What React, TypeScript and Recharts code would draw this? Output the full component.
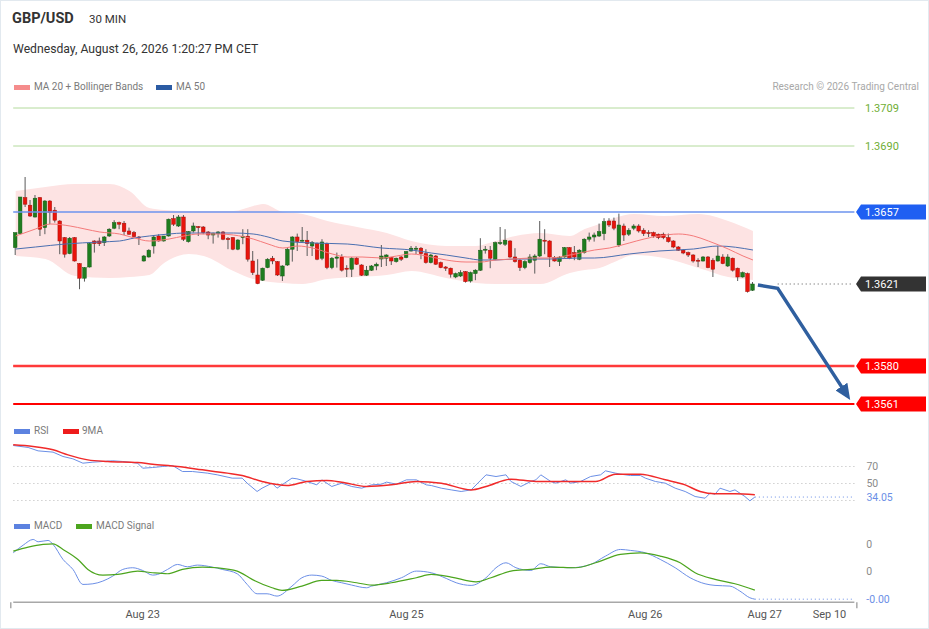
import React from "react";
import { ComposedChart, Bar, Line, Area, XAxis, YAxis, ReferenceLine } from "recharts";

const CHART_W = 929;
const SLOTS = 170;
const ML = 12.2;
const MR = 75.6;
const BAND = (CHART_W - ML - MR) / SLOTS;

// open, high, low, close  (price x 10 000)
const candles: [number, number, number, number][] = [
  [13639.2, 13646.7, 13635.5, 13646.7], [13646.2, 13664.5, 13645.9, 13664.5], [13664.2, 13674.5, 13659.5, 13660.9],
  [13660.4, 13663.0, 13654.5, 13655.0], [13654.5, 13665.5, 13654.2, 13663.9], [13664.2, 13664.5, 13645.0, 13648.4],
  [13649.2, 13662.9, 13645.9, 13662.5], [13662.5, 13662.9, 13650.9, 13656.7], [13657.9, 13659.5, 13651.7, 13652.9],
  [13652.5, 13652.9, 13635.9, 13642.5], [13644.2, 13644.5, 13634.2, 13635.9], [13636.2, 13644.5, 13635.9, 13643.9],
  [13644.2, 13644.5, 13632.2, 13632.5], [13631.2, 13631.5, 13618.4, 13623.9], [13623.9, 13629.5, 13622.2, 13629.2],
  [13629.5, 13641.5, 13629.2, 13641.2], [13642.5, 13642.9, 13636.7, 13641.2], [13642.5, 13644.2, 13640.0, 13641.2],
  [13641.7, 13645.0, 13640.0, 13644.5], [13645.0, 13648.9, 13644.5, 13648.4], [13648.9, 13652.9, 13648.4, 13651.7],
  [13651.7, 13652.2, 13648.4, 13650.9], [13651.4, 13652.5, 13645.5, 13647.2], [13647.5, 13649.2, 13645.5, 13645.9],
  [13646.7, 13647.5, 13644.2, 13644.7], [13644.5, 13645.0, 13640.5, 13644.2], [13632.5, 13635.5, 13632.2, 13635.0],
  [13634.5, 13638.4, 13634.2, 13637.9], [13640.0, 13645.5, 13636.2, 13644.5], [13645.0, 13645.9, 13642.2, 13642.5],
  [13642.5, 13645.0, 13642.2, 13645.0], [13645.0, 13653.7, 13644.7, 13653.4], [13653.7, 13655.5, 13650.0, 13650.9],
  [13650.0, 13655.5, 13649.5, 13654.5], [13654.5, 13655.5, 13642.5, 13643.4], [13642.2, 13647.5, 13641.7, 13647.2],
  [13647.5, 13651.7, 13646.7, 13650.0], [13649.7, 13650.0, 13645.0, 13649.2], [13649.5, 13650.0, 13645.9, 13646.7],
  [13647.0, 13647.5, 13643.4, 13645.5], [13645.5, 13646.7, 13641.2, 13646.4], [13646.2, 13647.5, 13644.2, 13647.0],
  [13647.0, 13647.5, 13642.9, 13643.4], [13643.7, 13644.5, 13638.4, 13643.2], [13644.2, 13644.5, 13637.9, 13638.4],
  [13638.4, 13643.4, 13637.9, 13643.0], [13644.2, 13648.4, 13640.9, 13644.9], [13644.9, 13648.4, 13632.2, 13633.4],
  [13632.5, 13637.5, 13625.5, 13626.7], [13625.5, 13633.4, 13620.9, 13621.2], [13622.9, 13629.2, 13622.5, 13628.9],
  [13629.2, 13633.9, 13628.9, 13633.4], [13633.9, 13635.0, 13630.9, 13632.5], [13632.2, 13632.5, 13625.0, 13625.5],
  [13625.0, 13630.4, 13622.5, 13630.0], [13630.5, 13639.5, 13630.0, 13638.4], [13638.4, 13644.9, 13632.2, 13644.5],
  [13644.5, 13646.2, 13637.5, 13642.2], [13642.4, 13649.5, 13642.2, 13642.9], [13642.9, 13647.5, 13635.0, 13641.2],
  [13640.0, 13642.5, 13635.0, 13641.7], [13641.2, 13641.7, 13632.9, 13633.4], [13633.9, 13643.4, 13632.9, 13642.0],
  [13641.2, 13641.7, 13628.4, 13629.2], [13629.2, 13634.5, 13628.4, 13633.9], [13633.9, 13636.7, 13629.2, 13634.5],
  [13634.5, 13635.9, 13627.2, 13627.9], [13628.9, 13630.4, 13624.5, 13628.4], [13628.4, 13634.5, 13624.5, 13633.9],
  [13633.9, 13634.5, 13630.5, 13630.9], [13630.5, 13630.9, 13625.0, 13625.4], [13625.4, 13630.0, 13625.0, 13627.9],
  [13627.9, 13630.5, 13627.5, 13630.0], [13630.0, 13631.7, 13627.9, 13630.9], [13633.5, 13640.5, 13629.5, 13635.0],
  [13633.9, 13635.9, 13630.0, 13635.5], [13634.2, 13634.5, 13630.5, 13632.5], [13632.2, 13634.2, 13631.7, 13633.9],
  [13634.5, 13635.0, 13632.5, 13633.4], [13634.2, 13637.5, 13633.9, 13637.2], [13637.5, 13640.0, 13637.2, 13638.9],
  [13638.4, 13640.0, 13635.9, 13638.9], [13638.9, 13639.5, 13633.4, 13636.2], [13636.2, 13638.4, 13631.2, 13631.7],
  [13631.7, 13636.0, 13631.3, 13635.5], [13635.0, 13635.5, 13630.5, 13630.9], [13631.7, 13632.2, 13628.9, 13629.2],
  [13629.5, 13630.0, 13627.5, 13628.9], [13628.9, 13629.2, 13624.2, 13625.9], [13624.5, 13626.7, 13623.9, 13626.2],
  [13625.0, 13627.9, 13624.5, 13626.7], [13627.2, 13627.5, 13621.7, 13622.2], [13622.5, 13627.2, 13621.7, 13626.7],
  [13626.2, 13628.4, 13622.9, 13627.9], [13627.9, 13643.9, 13627.5, 13637.9], [13637.9, 13640.0, 13636.2, 13638.4],
  [13637.9, 13640.0, 13628.9, 13633.9], [13633.4, 13642.2, 13632.9, 13641.7], [13641.4, 13649.5, 13640.5, 13641.7],
  [13640.9, 13648.4, 13640.0, 13642.9], [13642.5, 13642.9, 13633.9, 13634.5], [13634.5, 13638.9, 13631.7, 13632.2],
  [13632.9, 13633.4, 13627.5, 13629.2], [13629.2, 13632.9, 13628.4, 13632.2], [13631.7, 13635.9, 13631.2, 13634.5],
  [13632.9, 13635.9, 13626.2, 13635.0], [13635.0, 13652.5, 13634.5, 13643.4], [13642.9, 13648.4, 13635.9, 13642.5],
  [13642.5, 13642.9, 13629.5, 13634.5], [13634.2, 13635.0, 13632.2, 13632.5], [13632.2, 13635.0, 13630.0, 13634.2],
  [13634.5, 13639.5, 13634.2, 13639.2], [13639.2, 13639.5, 13633.4, 13633.9], [13636.7, 13640.0, 13632.9, 13634.5],
  [13633.4, 13638.4, 13632.9, 13637.9], [13636.7, 13643.9, 13636.2, 13643.4], [13643.4, 13646.7, 13642.2, 13644.5],
  [13644.5, 13646.7, 13642.2, 13645.5], [13645.0, 13651.2, 13644.5, 13647.2], [13646.2, 13653.9, 13642.9, 13652.2],
  [13652.5, 13653.9, 13649.5, 13650.5], [13652.5, 13654.2, 13647.9, 13648.9], [13640.5, 13656.2, 13639.5, 13650.5],
  [13650.0, 13651.2, 13642.5, 13645.5], [13645.9, 13648.9, 13645.0, 13647.9], [13648.9, 13650.9, 13647.9, 13650.0],
  [13650.0, 13650.9, 13646.7, 13647.5], [13647.9, 13648.9, 13645.0, 13646.2], [13646.7, 13647.9, 13644.5, 13646.2],
  [13646.7, 13647.2, 13644.2, 13645.0], [13645.9, 13646.2, 13643.4, 13644.2], [13645.9, 13646.7, 13643.4, 13644.2],
  [13644.2, 13646.2, 13641.7, 13642.2], [13642.5, 13642.9, 13638.9, 13639.5], [13639.5, 13640.0, 13637.5, 13637.9],
  [13637.9, 13638.4, 13635.9, 13636.5], [13636.7, 13637.2, 13634.5, 13635.5], [13635.5, 13635.9, 13631.7, 13632.5],
  [13632.9, 13633.9, 13629.5, 13632.5], [13632.5, 13635.0, 13632.2, 13634.5], [13634.5, 13635.0, 13628.9, 13629.2],
  [13632.9, 13633.9, 13624.5, 13628.4], [13632.5, 13640.0, 13632.2, 13635.0], [13634.5, 13635.9, 13630.9, 13631.2],
  [13630.0, 13635.9, 13629.5, 13634.5], [13633.9, 13634.2, 13627.2, 13627.9], [13628.9, 13629.2, 13622.5, 13624.5],
  [13624.5, 13627.2, 13624.2, 13626.7], [13626.2, 13626.7, 13616.7, 13617.2], [13617.9, 13622.0, 13617.5, 13621.0],
];

// Bollinger band: [index, lower, upper]
const bandPts: [number, number, number][] = [
  [0, 13635, 13667.5], [6, 13633.5, 13669.5], [12, 13625, 13671], [19, 13624, 13671], [23, 13624.5, 13667.5],
  [27, 13625.5, 13659], [30, 13631.5, 13658], [35, 13636, 13657.5], [38, 13635, 13657.5], [44, 13627.5, 13657.5],
  [48, 13623.5, 13660], [50, 13622.5, 13661], [54, 13621.5, 13657], [58, 13621, 13656], [63, 13623.5, 13652.5],
  [69, 13624.5, 13649.5], [75, 13625.5, 13646.5], [80, 13627.5, 13642.5], [87, 13624, 13640], [93, 13621.5, 13640],
  [97, 13621, 13642.5], [101, 13621, 13645], [106, 13621, 13646.5], [112, 13626.5, 13645], [115, 13628, 13648.5],
  [118, 13629, 13651], [121, 13632, 13654], [125, 13635.5, 13656], [131, 13634, 13655], [138, 13629, 13656],
  [144, 13624.5, 13652.5], [149, 13623, 13647.5],
];

const ma20Pts: [number, number][] = [
  [0, 13645], [4, 13648.5], [7, 13651], [11, 13650], [14, 13648.5], [17, 13647], [21, 13646], [24, 13644],
  [27, 13642.5], [31, 13643.5], [34, 13645], [37, 13646], [41, 13646], [44, 13645.5], [48, 13643.5], [51, 13641],
  [54, 13639], [57, 13640], [60, 13639], [64, 13636], [67, 13634.5], [70, 13634.5], [74, 13634], [77, 13635],
  [80, 13636], [84, 13634.5], [87, 13633], [91, 13632], [94, 13632], [97, 13633], [101, 13633.5], [104, 13634],
  [108, 13634], [111, 13635], [114, 13636.5], [117, 13638], [120, 13639], [124, 13641.5], [127, 13643.5],
  [130, 13645], [134, 13646], [137, 13645], [140, 13642.5], [144, 13638.5], [147, 13635], [149, 13633],
];

const ma50Pts: [number, number][] = [
  [0, 13638.5], [4, 13639.5], [10, 13641], [17, 13642], [21, 13642.5], [24, 13644], [27, 13645], [31, 13646],
  [34, 13646.5], [37, 13646.5], [44, 13646.5], [48, 13646], [51, 13644.5], [54, 13642.5], [60, 13641.5],
  [67, 13641], [74, 13639], [80, 13638], [84, 13636.5], [87, 13635.5], [91, 13634], [94, 13633], [97, 13633],
  [101, 13633.5], [108, 13633.5], [114, 13634], [117, 13634], [124, 13636], [130, 13637.5], [137, 13638.5],
  [142, 13640], [149, 13638],
];

// forecast arrow path
const forecastPts: [number, number][] = [[150, 13620.5], [154, 13618.8], [167, 13569.3]];

const levels = [1.3709, 1.369, 1.3657, 1.3621, 1.358, 1.3561];
const levelKind = ["green", "green", "blue", "dark", "red", "red"];

const rsiPts: [number, number][] = [
  [0, 94.7], [3, 92.4], [5, 88.4], [8, 86.9], [10, 81.8], [12, 79.0], [14, 73.9], [16, 75.1], [20, 76.7],
  [22, 75.9], [25, 73.9], [26, 68.0], [28, 68.8], [30, 70], [32, 71.2], [34, 64.1], [36, 64.1], [39, 62.2],
  [41, 60.2], [44, 56.3], [46, 56.3], [47, 50.4], [49, 40.6], [50, 44.5], [52, 50.4], [53, 44.5], [56, 56.3],
  [57, 55.5], [59, 52.4], [61, 48.4], [62, 54.3], [64, 46.5], [66, 50.4], [68, 46.5], [70, 44.5], [72, 48.4],
  [74, 49.2], [75, 51.6], [77, 49.2], [79, 54.3], [81, 54.3], [83, 48.4], [84, 47.6], [86, 44.5], [88, 42.5],
  [90, 40.6], [92, 42.5], [94, 54.3], [95, 60.2], [97, 58.2], [99, 60.2], [100, 52.4], [102, 46.5], [104, 52.4],
  [105, 54.3], [106, 60.2], [108, 52.4], [109, 50.4], [111, 54.3], [112, 50.4], [114, 52.4], [116, 58.2],
  [118, 60.2], [119, 64.9], [121, 62.2], [122, 61.0], [124, 59.4], [126, 59.4], [127, 56.3], [129, 52.4],
  [131, 50.4], [133, 44.5], [135, 40.6], [137, 34.7], [139, 32.7], [140, 38.6], [141, 37.4], [142, 44.5],
  [144, 40.6], [145, 42.5], [147, 34.7], [148, 29.6], [149, 34.05],
];

const rsiMaPts: [number, number][] = [
  [0, 95.5], [4, 93.5], [8, 89.6], [11, 83.7], [15, 77.8], [19, 75.9], [25, 74.7], [28, 72.7], [33, 70],
  [38, 66.1], [43, 62.2], [46, 59.4], [50, 52.4], [55, 47.6], [59, 52.4], [63, 53.5], [66, 51.6], [71, 46.5],
  [76, 48.4], [81, 52.4], [86, 50.4], [92, 42.5], [95, 46.5], [100, 55.1], [105, 52.4], [112, 52.4], [117, 52.4],
  [121, 61.0], [126, 61.0], [131, 54.3], [135, 48.4], [138, 40.6], [141, 37.8], [145, 37.8], [149, 36.7],
];

// MACD and signal (x 10 000)
const macdPts: [number, number][] = [
  [0, 3.39], [2, 4.81], [4, 5.86], [5, 5.43], [7, 5.68], [8, 4.94], [10, 2.16], [12, 0.31], [14, -2.47],
  [16, -2.35], [18, -1.85], [20, -0.93], [22, 0.31], [24, 0.62], [26, 0.12], [28, -0.74], [29, -0.62],
  [31, 0.31], [33, 1.23], [35, 0.8], [37, 1.11], [40, 0.74], [42, 0.31], [45, -0.49], [47, -2.47], [49, -4.2],
  [51, -4.2], [53, -4.63], [56, -2.78], [58, -1.23], [60, -0.74], [62, -0.93], [64, -1.73], [66, -2.16],
  [68, -2.59], [71, -3.09], [72, -2.78], [75, -2.16], [78, -1.23], [81, 0.0], [84, -0.31], [87, -1.36],
  [89, -2.16], [92, -2.65], [95, -1.23], [97, 0.62], [99, 1.54], [101, 0.62], [104, 0.12], [106, 1.36],
  [108, 0.8], [112, 0.62], [116, 1.23], [119, 2.78], [122, 4.01], [124, 3.83], [127, 3.39], [130, 2.16],
  [133, 0.62], [136, -1.23], [139, -2.35], [141, -2.65], [144, -2.78], [146, -3.7], [148, -4.94], [149, -5.2],
];

const signalPts: [number, number][] = [
  [0, 3.7], [3, 4.44], [6, 4.94], [8, 5.06], [10, 4.01], [13, 2.16], [15, 0.31], [18, -0.74], [21, -0.62],
  [25, 0], [28, -0.31], [31, -0.49], [34, 0.31], [38, 0.74], [41, 0.62], [45, 0], [48, -1.54], [52, -3.09],
  [54, -3.58], [58, -2.78], [62, -1.73], [65, -1.73], [69, -2.16], [72, -2.59], [76, -2.16], [81, -1.23],
  [84, -0.62], [88, -1.11], [93, -1.98], [96, -1.23], [100, 0], [104, 0.31], [108, 0.74], [113, 0.62],
  [117, 1.54], [122, 3.09], [126, 3.39], [130, 2.78], [134, 1.54], [137, -0.31], [141, -1.54], [145, -2.35],
  [149, -3.52],
];

const xTickIdx = [26, 79, 127, 151, 164];
const xTickLabels = ["Aug 23", "Aug 25", "Aug 26", "Aug 27", "Sep 10"];

const P = (v: number) => v / 10000;
const rows: Record<string, any>[] = Array.from({ length: SLOTS }, (_, i) => ({ i }));
candles.forEach(([o, h, l, c], i) =>
  Object.assign(rows[i], { o: P(o), h: P(h), l: P(l), c: P(c), range: [P(l), P(h)] })
);
bandPts.forEach(([i, lo, hi]) => (rows[i].band = [P(lo), P(hi)]));
ma20Pts.forEach(([i, v]) => (rows[i].ma20 = P(v)));
ma50Pts.forEach(([i, v]) => (rows[i].ma50 = P(v)));
forecastPts.forEach(([i, v]) => (rows[i].fc = P(v)));
rsiPts.forEach(([i, v]) => (rows[i].rsi = v));
rsiMaPts.forEach(([i, v]) => (rows[i].rsiMa = v));
macdPts.forEach(([i, v]) => (rows[i].macd = P(v)));
signalPts.forEach(([i, v]) => (rows[i].signal = P(v)));

const RSI_LAST = rsiPts[rsiPts.length - 1][1];
const MACD_LAST = P(macdPts[macdPts.length - 1][1]);
const LAST_IDX = candles.length - 1;

const BLUE = "#6b8fe6";

const Candle = (props: any) => {
  const { x, y, width, height, payload } = props;
  if (!payload || payload.o == null) return null;
  const { o, h, l, c } = payload;
  const span = h - l;
  const py = (p: number) => (span === 0 ? y : y + ((h - p) / span) * height);
  const cx = x + width / 2;
  const top = py(Math.max(o, c));
  const bot = py(Math.min(o, c));
  const up = c >= o;
  return (
    <g>
      <line x1={cx} x2={cx} y1={py(h)} y2={py(l)} stroke="#5a5a5a" strokeWidth={1} />
      <rect
        x={cx - 1.8}
        y={top}
        width={3.6}
        height={Math.max(bot - top, 1)}
        fill={up ? "#1f7d1f" : "#e8140c"}
        stroke={up ? "#165c16" : "#a50f09"}
        strokeWidth={0.5}
      />
    </g>
  );
};

const PriceTick = (props: any) => {
  const { x, y, payload } = props;
  const k = levels.findIndex((l) => Math.abs(l - payload.value) < 1e-7);
  const kind = levelKind[k];
  const label = payload.value.toFixed(4);
  if (kind === "green") {
    return (
      <text x={x + 10.6} y={y} dominantBaseline="central" fontSize={11} fill="#6fae35">
        {label}
      </text>
    );
  }
  const fill = kind === "blue" ? "#1f5ff2" : kind === "dark" ? "#333333" : "#ff0000";
  const d = `M${x + 1.6},${y} L${x + 6.6},${y - 7.5} L${x + 71.6},${y - 7.5} L${x + 71.6},${y + 7.5} L${x + 6.6},${y + 7.5} Z`;
  return (
    <g>
      <path d={d} fill={fill} />
      <text x={x + 10.6} y={y} dominantBaseline="central" fontSize={11} fill="#ffffff">
        {label}
      </text>
    </g>
  );
};

const RsiTick = (props: any) => {
  const { x, y, payload } = props;
  const isLast = Math.abs(payload.value - RSI_LAST) < 1e-9;
  return (
    <text x={x + 12} y={y} dominantBaseline="central" fontSize={10.5} fill={isLast ? BLUE : "#8a8a8a"}>
      {isLast ? payload.value.toFixed(2) : String(payload.value)}
    </text>
  );
};

const MacdTick = (props: any) => {
  const { x, y, payload } = props;
  const isLast = Math.abs(payload.value - MACD_LAST) < 1e-12;
  return (
    <text x={x + 12} y={y} dominantBaseline="central" fontSize={10.5} fill={isLast ? BLUE : "#8a8a8a"}>
      {isLast ? payload.value.toFixed(2) : payload.value.toFixed(0)}
    </text>
  );
};

const XTick = (props: any) => {
  const { x, y, payload } = props;
  const v = payload.value;
  if (v === 0 || v === SLOTS - 1) {
    const ex = v === 0 ? x - BAND / 2 : x + BAND / 2;
    return <line x1={ex} x2={ex} y1={y} y2={y + 6} stroke="#a8a8a8" strokeWidth={1.5} />;
  }
  const k = xTickIdx.indexOf(v);
  return (
    <text x={x} y={y + 12} textAnchor="middle" dominantBaseline="central" fontSize={11} fill="#555">
      {xTickLabels[k]}
    </text>
  );
};

const Txt = ({ x, cy, size, color, bold, children, right }: any) => (
  <div
    style={{
      position: "absolute",
      left: right ? undefined : x,
      right: right ? CHART_W - x : undefined,
      top: cy - 10,
      height: 20,
      lineHeight: "20px",
      fontSize: size,
      color,
      fontWeight: bold ? 700 : 400,
      whiteSpace: "nowrap",
    }}
  >
    {children}
  </div>
);

const Swatch = ({ x, cy, color }: any) => (
  <div style={{ position: "absolute", left: x, top: cy - 2.5, width: 16, height: 5, background: color }} />
);

export default function App() {
  return (
    <div
      style={{
        position: "absolute",
        left: 0,
        top: 0,
        width: CHART_W,
        height: 629,
        boxSizing: "border-box",
        border: "1px solid #e2e9ef",
        background: "#fff",
        fontFamily: "Roboto, Arial, sans-serif",
        overflow: "hidden",
      }}
    >
      <svg width={0} height={0} style={{ position: "absolute" }}>
        <defs>
          <marker
            id="fcArrow"
            markerUnits="userSpaceOnUse"
            markerWidth={16}
            markerHeight={14}
            refX={1}
            refY={7}
            orient="auto"
            viewBox="0 0 16 14"
          >
            <path d="M0,0 L16,7 L0,14 Z" fill="#2f5f9f" />
          </marker>
        </defs>
      </svg>

      <Txt x={11} cy={18} size={14.5} color="#333" bold>GBP/USD</Txt>
      <Txt x={88} cy={18} size={11.5} color="#333">30 MIN</Txt>
      <Txt x={12} cy={48} size={12.2} color="#333">Wednesday, August 26, 2026 1:20:27 PM CET</Txt>

      <Swatch x={13} cy={86} color="#f58c8c" />
      <Txt x={33} cy={86} size={10} color="#7a7a7a">MA 20 + Bollinger Bands</Txt>
      <Swatch x={155} cy={86} color="#2b5ba3" />
      <Txt x={175} cy={86} size={10} color="#7a7a7a">MA 50</Txt>
      <Txt x={920} cy={86} size={10} color="#a8a8a8" right>Research © 2026 Trading Central</Txt>

      <Swatch x={13} cy={430} color="#5c82e0" />
      <Txt x={33} cy={430} size={10} color="#7a7a7a">RSI</Txt>
      <Swatch x={62} cy={430} color="#ee1c1c" />
      <Txt x={81} cy={430} size={10} color="#7a7a7a">9MA</Txt>

      <Swatch x={13} cy={525} color="#5c82e0" />
      <Txt x={33} cy={525} size={10} color="#7a7a7a">MACD</Txt>
      <Swatch x={75} cy={525} color="#4ca51e" />
      <Txt x={95} cy={525} size={10} color="#7a7a7a">MACD Signal</Txt>

      {/* price panel */}
      <div style={{ position: "absolute", left: 0, top: 100 }}>
        <ComposedChart width={CHART_W} height={315} data={rows} margin={{ top: 0, right: 0, left: ML, bottom: 0 }}>
          <XAxis dataKey="i" type="category" hide />
          <YAxis
            orientation="right"
            type="number"
            width={MR}
            domain={[1.3555, 1.37125]}
            ticks={levels}
            interval={0}
            tick={(p: any) => <PriceTick {...p} />}
            axisLine={false}
            tickLine={false}
            tickSize={0}
            tickMargin={0}
            allowDataOverflow
          />
          <Area
            dataKey="band"
            type="monotone"
            fill="#fde3e3"
            fillOpacity={1}
            stroke="none"
            connectNulls
            isAnimationActive={false}
          />
          <ReferenceLine y={levels[0]} stroke="#b3da9c" strokeWidth={1} />
          <ReferenceLine y={levels[1]} stroke="#b3da9c" strokeWidth={1} />
          <ReferenceLine y={levels[2]} stroke="#6d93ee" strokeWidth={1.5} />
          <ReferenceLine y={levels[4]} stroke="#ff9c9c" strokeWidth={3} />
          <ReferenceLine y={levels[4]} stroke="#ff1a1a" strokeWidth={1.5} />
          <ReferenceLine y={levels[5]} stroke="#ff0000" strokeWidth={2} />
          <ReferenceLine
            segment={[{ x: 154, y: levels[3] }, { x: SLOTS - 1, y: levels[3] }]}
            stroke="#555"
            strokeDasharray="1 3"
          />
          <Line dataKey="ma50" type="monotone" stroke="#4a6fb0" strokeWidth={1} dot={false} connectNulls isAnimationActive={false} />
          <Line dataKey="ma20" type="monotone" stroke="#f47a7a" strokeWidth={1} dot={false} connectNulls isAnimationActive={false} />
          <Bar dataKey="range" barSize={4} shape={(p: any) => <Candle {...p} />} isAnimationActive={false} />
          <Line
            dataKey="fc"
            type="linear"
            stroke="#2f5f9f"
            strokeWidth={3.5}
            dot={false}
            connectNulls
            markerEnd="url(#fcArrow)"
            isAnimationActive={false}
          />
        </ComposedChart>
      </div>

      {/* RSI panel */}
      <div style={{ position: "absolute", left: 0, top: 439.5 }}>
        <ComposedChart width={CHART_W} height={68} data={rows} margin={{ top: 0, right: 0, left: ML, bottom: 0 }}>
          <XAxis dataKey="i" type="category" hide />
          <YAxis
            orientation="right"
            type="number"
            width={MR}
            domain={[20, 100]}
            ticks={[RSI_LAST, 50, 70]}
            interval={0}
            tick={(p: any) => <RsiTick {...p} />}
            axisLine={false}
            tickLine={false}
            tickSize={0}
            tickMargin={0}
          />
          <ReferenceLine y={70} stroke="#b8b8b8" strokeDasharray="1 3" />
          <ReferenceLine y={50} stroke="#b8b8b8" strokeDasharray="1 3" />
          <ReferenceLine y={30} stroke="#b8b8b8" strokeDasharray="1 3" />
          <ReferenceLine
            segment={[{ x: LAST_IDX, y: RSI_LAST }, { x: SLOTS - 1, y: RSI_LAST }]}
            stroke={BLUE}
            strokeDasharray="1 3"
          />
          <Line dataKey="rsi" type="linear" stroke={BLUE} strokeWidth={1} dot={false} connectNulls isAnimationActive={false} />
          <Line dataKey="rsiMa" type="monotone" stroke="#f02a2a" strokeWidth={1.5} dot={false} connectNulls isAnimationActive={false} />
        </ComposedChart>
      </div>

      {/* MACD panel */}
      <div style={{ position: "absolute", left: 0, top: 534.9 }}>
        <ComposedChart width={CHART_W} height={93.15} data={rows} margin={{ top: 0, right: 0, left: ML, bottom: 0 }}>
          <XAxis
            dataKey="i"
            type="category"
            height={27}
            ticks={[0, ...xTickIdx, SLOTS - 1]}
            interval={0}
            tick={(p: any) => <XTick {...p} />}
            tickLine={false}
            tickSize={0}
            tickMargin={0}
            axisLine={{ stroke: "#a8a8a8", strokeWidth: 1.5 }}
          />
          <YAxis
            orientation="right"
            type="number"
            width={MR}
            domain={[-0.000575, 0.00065]}
            ticks={[MACD_LAST, 0, 0.0005]}
            interval={0}
            tick={(p: any) => <MacdTick {...p} />}
            axisLine={false}
            tickLine={false}
            tickSize={0}
            tickMargin={0}
          />
          <ReferenceLine
            segment={[{ x: LAST_IDX, y: MACD_LAST }, { x: SLOTS - 1, y: MACD_LAST }]}
            stroke={BLUE}
            strokeDasharray="1 3"
          />
          <Line dataKey="macd" type="monotone" stroke={BLUE} strokeWidth={1} dot={false} connectNulls isAnimationActive={false} />
          <Line dataKey="signal" type="monotone" stroke="#4ca51e" strokeWidth={1.2} dot={false} connectNulls isAnimationActive={false} />
        </ComposedChart>
      </div>
    </div>
  );
}
